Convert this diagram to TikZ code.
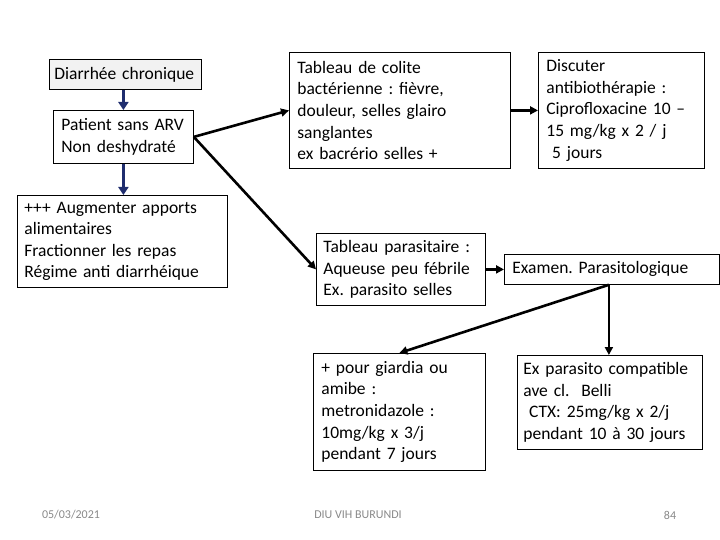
\documentclass[tikz,border=0pt]{standalone}
\usepackage{fontspec}
\setmainfont{Carlito}
\usetikzlibrary{arrows.meta}
\definecolor{navyarrow}{RGB}{31,45,110}
\definecolor{footgray}{RGB}{137,137,137}
\definecolor{boxgray}{RGB}{242,242,242}
\frenchspacing
\begin{document}
\begin{tikzpicture}[x=1pt,y=-1pt,
  box/.style={draw=black,line width=0.8pt,anchor=north west,align=left,
    inner ysep=0pt,font=\fontsize{17.5}{21.6}\selectfont,
    execute at begin node={\frenchspacing\hyphenpenalty=10000\exhyphenpenalty=10000}},
  navyarr/.style={draw=navyarrow,line width=3pt,-{Triangle[length=8pt,width=10pt]}},
  blackarr/.style={draw=black,line width=2.6pt,-{Triangle[length=8pt,width=8pt]}},
  foot/.style={text=footgray,font=\fontsize{12}{14}\selectfont,inner sep=0pt}]
\useasboundingbox (0,0) rectangle (720,540);
% left column
\node[box,fill=boxgray,inner xsep=5pt,text width=142pt,minimum height=30pt] (dc) at (49,59) {Diarrhée chronique};
\node[box,inner xsep=8pt,text width=124pt,minimum height=53pt] (psa) at (53,110) {Patient sans ARV\\Non deshydraté};
\node[box,inner xsep=7pt,text width=196pt,minimum height=92pt] (aug) at (17,195) {+++ Augmenter apports\\alimentaires\\Fractionner les repas\\Régime anti diarrhéique};
% top right
\node[box,inner xsep=8pt,text width=205pt,minimum height=116pt] (col) at (289,52) {Tableau de colite\\bactérienne : fièvre,\\douleur, selles glairo\\sanglantes\\ex bacrério selles +};
\node[box,inner xsep=8pt,text width=150pt,minimum height=116pt] (dis) at (538,52) {Discuter\\antibiothérapie :\\Ciprofloxacine 10 --\\15 mg/kg x 2 / j\\\ 5 jours};
% middle
\node[box,inner xsep=7pt,text width=155pt,minimum height=72pt] (par) at (316,233) {Tableau parasitaire :\\Aqueuse peu fébrile\\Ex. parasito selles};
\node[box,inner xsep=8pt,text width=199pt,minimum height=30pt] (exa) at (504,254) {Examen. Parasitologique};
% bottom
\node[box,inner xsep=8pt,text width=156pt,minimum height=117pt] (gia) at (313,353) {+ pour giardia ou\\amibe :\\metronidazole :\\10mg/kg x 3/j\\pendant 7 jours};
\node[box,inner xsep=6pt,text width=173pt,minimum height=94pt] (exp) at (517,355) {Ex parasito compatible\\ave cl.\ \ Belli\\\ CTX: 25mg/kg x 2/j\\pendant 10 à 30 jours};
% connectors
\draw[navyarr] (dc.south -| psa.north) -- (psa.north);
\draw[navyarr] (psa.south) -- (psa.south |- aug.north);
\draw[blackarr] (psa.east) -- (col.west);
\draw[blackarr] (psa.east) -- (par.west);
\draw[blackarr] (col.east) -- (dis.west);
\draw[blackarr] (par.east) -- (par.east -| exa.west);
\coordinate (exb) at ([xshift=-3pt]exa.south);
\draw[blackarr] (exb) -- (exb |- exp.north);
\draw[blackarr] (exb) -- (gia.north);
% footer
\node[foot] (date) at (71,515) {05/03/2021};
\node[foot] (diu) at (358,515) {DIU VIH BURUNDI};
\node[foot] (num) at (670,515) {84};
\end{tikzpicture}
\end{document}
